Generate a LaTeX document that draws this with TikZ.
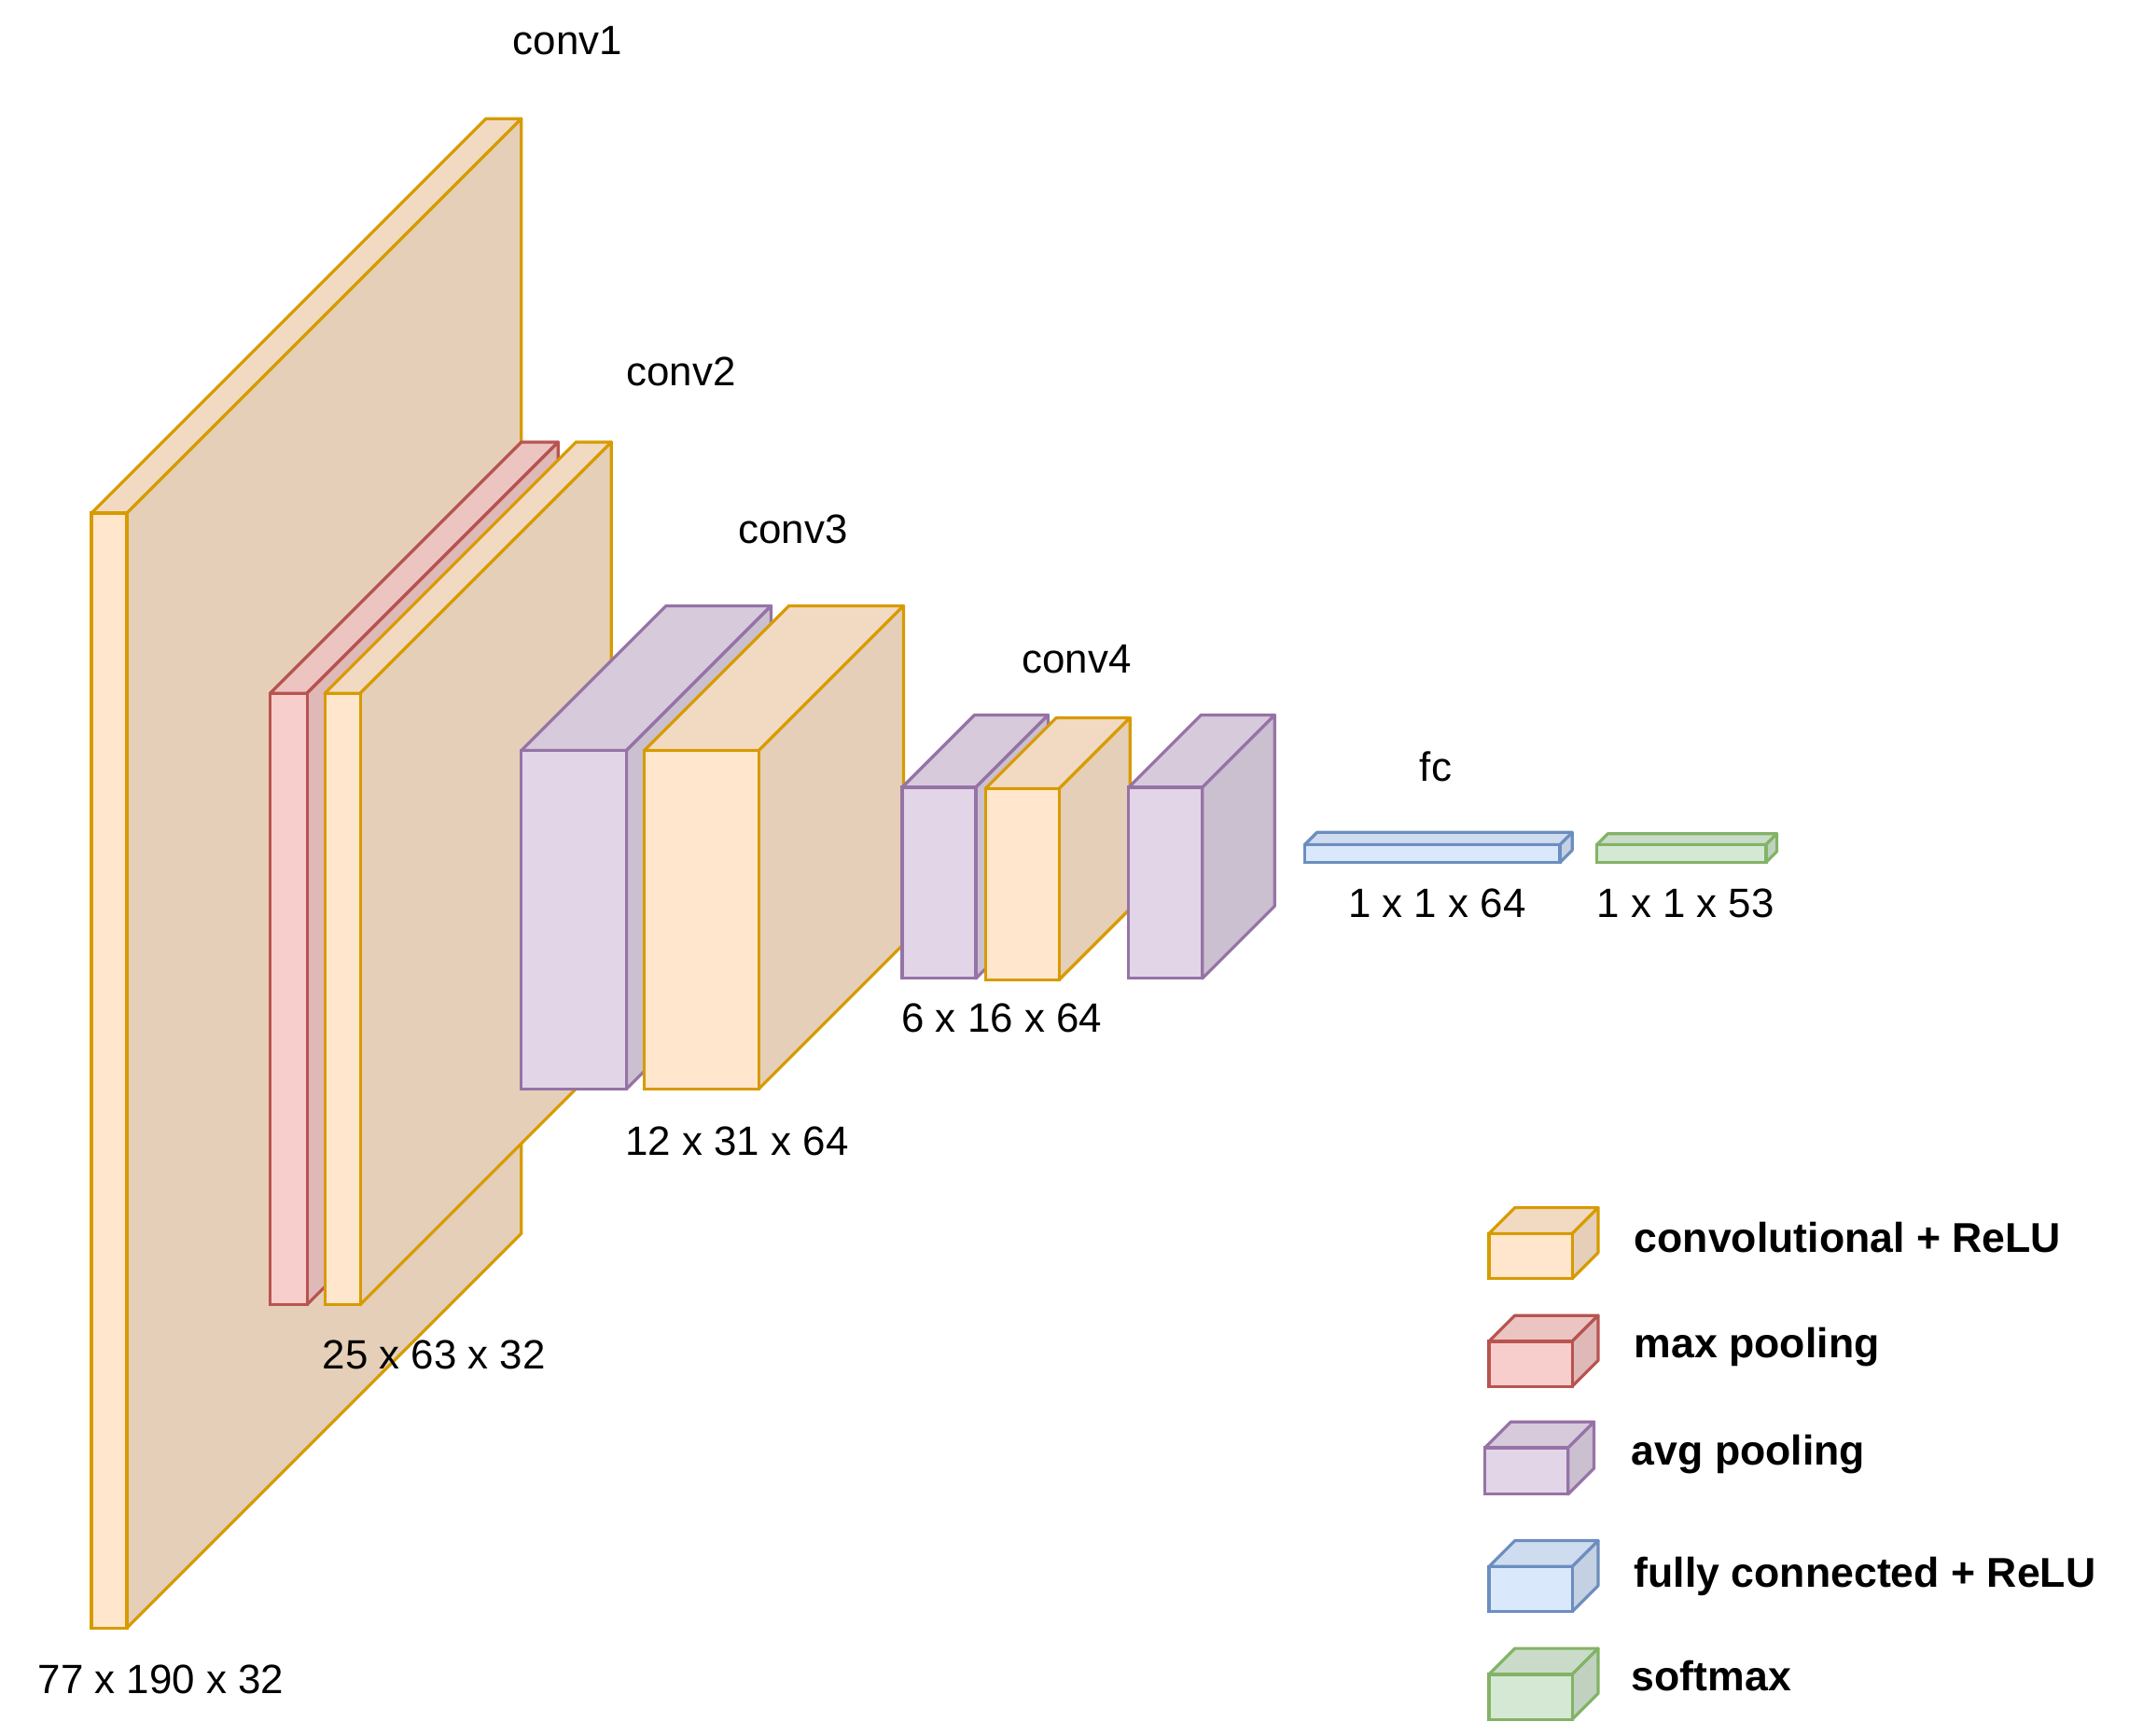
\documentclass[tikz,border=0pt]{standalone}
\usepackage{fontspec}
\setmainfont{Liberation Sans}
\definecolor{yf}{HTML}{FFE6CC}\definecolor{ys}{HTML}{D79B00}
\definecolor{rf}{HTML}{F8CECC}\definecolor{rs}{HTML}{B85450}
\definecolor{pf}{HTML}{E1D5E7}\definecolor{ps}{HTML}{9673A6}
\definecolor{bf}{HTML}{DAE8FC}\definecolor{bs}{HTML}{6C8EBF}
\definecolor{gf}{HTML}{D5E8D4}\definecolor{gs}{HTML}{82B366}
% #1 x1 #2 y1 #3 x2 #4 y2 #5 offset #6 fill #7 stroke
\newcommand{\mycube}[7]{%
 \draw[line width=2.2pt,draw=#7,fill=#6!95!black,line join=round] (#1,#2)--(#1+#5,#2-#5)--(#3+#5,#2-#5)--(#3,#2)--cycle;
 \draw[line width=2.2pt,draw=#7,fill=#6!90!black,line join=round] (#3,#2)--(#3+#5,#2-#5)--(#3+#5,#4-#5)--(#3,#4)--cycle;
 \draw[line width=2.2pt,draw=#7,fill=#6] (#1,#2) rectangle (#3,#4);}
\tikzset{lbl/.style={font=\fontsize{30}{34}\selectfont},
 leg/.style={font=\fontsize{30.5}{34}\selectfont\bfseries,anchor=west}}
\begin{document}
\begin{tikzpicture}[x=1pt,y=-1pt]
\useasboundingbox (0,0) rectangle (1560,1272);
\mycube{67}{376}{93}{1193}{289}{yf}{ys}
\mycube{198}{508}{225}{956}{184}{rf}{rs}
\mycube{238}{508}{264}{956}{184}{yf}{ys}
\mycube{382}{550}{459}{798}{106}{pf}{ps}
\mycube{472}{550}{556}{798}{106}{yf}{ys}
\mycube{661}{577}{715}{717}{53}{pf}{ps}
\mycube{722}{578}{776}{718}{52}{yf}{ys}
\mycube{827}{577}{881}{717}{53}{pf}{ps}
\mycube{956}{619}{1143}{632}{9}{bf}{bs}
\mycube{1170}{619}{1294}{632}{8}{gf}{gs}
\mycube{1091}{904}{1152}{937}{19}{yf}{ys}
\mycube{1091}{983}{1152}{1016}{19}{rf}{rs}
\mycube{1088}{1061}{1149}{1095}{19}{pf}{ps}
\mycube{1091}{1148}{1152}{1181}{19}{bf}{bs}
\mycube{1091}{1227}{1152}{1260}{19}{gf}{gs}
\node[lbl] (c1) at (416,30) {conv1};
\node[lbl] (c2) at (499,272) {conv2};
\node[lbl] (c3) at (581,388) {conv3};
\node[lbl] (c4) at (789,483) {conv4};
\node[lbl] (fc) at (1052,562) {fc};
\node[lbl] (d1) at (118,1231) {77 x 190 x 32};
\node[lbl] (d2) at (318,993) {25 x 63 x 32};
\node[lbl] (d3) at (540,836) {12 x 31 x 64};
\node[lbl] (d4) at (734,746) {6 x 16 x 64};
\node[lbl] (d5) at (1053,662) {1 x 1 x 64};
\node[lbl] (d6) at (1235,662) {1 x 1 x 53};
\node[leg] (l1) at (1194,907) {convolutional + ReLU};
\node[leg] (l2) at (1194,987) {max pooling};
\node[leg] (l3) at (1192,1066) {avg pooling};
\node[leg] (l4) at (1194,1155) {fully connected + ReLU};
\node[leg] (l5) at (1192,1228) {softmax};
\end{tikzpicture}
\end{document}
